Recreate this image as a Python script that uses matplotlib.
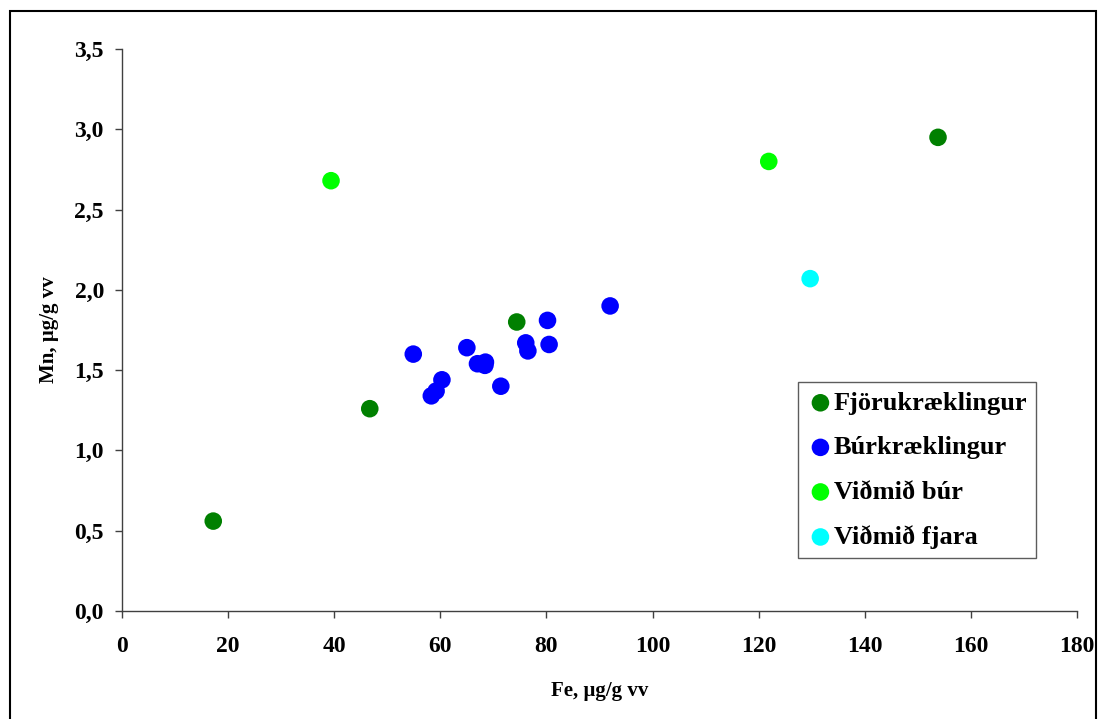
import matplotlib.pyplot as plt
from matplotlib.patches import Rectangle
from matplotlib.ticker import FuncFormatter

plt.rcParams['font.family'] = ['Liberation Serif', 'DejaVu Serif']
plt.rcParams['font.weight'] = 'bold'

# Fe (x) and Mn (y), µg/g vv
fjoru_fe = [17.2, 46.7, 74.4, 153.8]
fjoru_mn = [0.56, 1.26, 1.80, 2.95]

bur_fe = [54.9, 65.0, 60.3, 59.2, 58.3, 67.0, 68.5, 68.4, 71.4, 76.1, 76.5, 80.2, 80.5, 92.0]
bur_mn = [1.60, 1.64, 1.44, 1.37, 1.34, 1.54, 1.55, 1.53, 1.40, 1.67, 1.62, 1.81, 1.66, 1.90]

vidmid_bur_fe = [39.4, 121.9]
vidmid_bur_mn = [2.68, 2.80]

vidmid_fjara_fe = [129.7]
vidmid_fjara_mn = [2.07]

series = [
    ("Fjörukræklingur", fjoru_fe, fjoru_mn, "#008000"),
    ("Búrkræklingur", bur_fe, bur_mn, "#0000FF"),
    ("Viðmið búr", vidmid_bur_fe, vidmid_bur_mn, "#00FF00"),
    ("Viðmið fjara", vidmid_fjara_fe, vidmid_fjara_mn, "#00FFFF"),
]

fig = plt.figure(figsize=(10.98, 7.19), dpi=100)
ax = fig.add_axes([0.1111, 0.1502, 0.8698, 0.7816])

for label, xs, ys, color in series:
    ax.scatter(xs, ys, s=160, color=color, edgecolors="none", label=label, zorder=3)

ax.set_xlim(0, 180)
ax.set_ylim(0, 3.5)
ax.set_xticks(range(0, 181, 20))
ax.set_yticks([i * 0.5 for i in range(8)])
ax.yaxis.set_major_formatter(FuncFormatter(lambda v, p: f"{v:.1f}".replace(".", ",")))

for side in ["top", "right"]:
    ax.spines[side].set_visible(False)
for side in ["left", "bottom"]:
    ax.spines[side].set_color("#404040")
    ax.spines[side].set_linewidth(1.0)

ax.tick_params(direction="out", length=5, width=1, color="#404040", labelsize=17)
ax.tick_params(axis="x", pad=13)
ax.tick_params(axis="y", pad=8)

ax.set_xlabel("Fe, µg/g vv", fontsize=15, fontweight="bold", labelpad=17)
ax.set_ylabel("Mn, µg/g vv", fontsize=15, fontweight="bold", labelpad=11)

leg = ax.legend(loc="upper left", bbox_to_anchor=(798 / 1098, 1 - 382 / 719),
                bbox_transform=fig.transFigure, fontsize=19, frameon=True, fancybox=False,
                handletextpad=0.0, labelspacing=0.8, borderpad=0.35, handlelength=1.0,
                borderaxespad=0)
leg.get_frame().set_edgecolor("#333333")
leg.get_frame().set_linewidth(1.0)

# outer chart border
fig.patches.append(Rectangle((10 / 1098, -0.05), 1086 / 1098, 1.05 - 11 / 719,
                             transform=fig.transFigure, fill=False, edgecolor="black",
                             linewidth=1.5))

fig.savefig("out.png", dpi=100)
